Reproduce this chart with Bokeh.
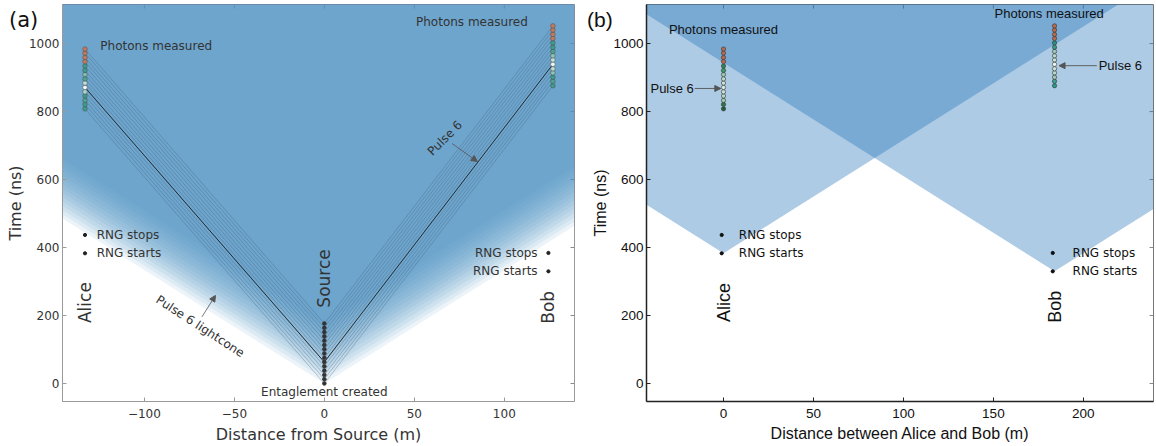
import numpy as np
from bokeh.plotting import figure
from bokeh.layouts import row
from bokeh.models import Label, Arrow, NormalHead, FixedTicker, Div
from bokeh.embed import file_html
from bokeh.resources import INLINE

# ---------------- data ----------------
pulse_number = [1, 2, 3, 4, 5, 6, 7, 8, 9, 10, 11, 12, 13, 14, 15]
pulse_emit_ns = [0.0, 12.6, 25.2, 37.8, 50.4, 63.0, 75.6, 88.2, 100.8, 113.4, 126.0, 138.6, 151.2, 163.8, 176.4]
alice_detect_ns = [808, 821, 833, 846, 858, 871, 884, 896, 909, 921, 934, 947, 959, 972, 984]
bob_detect_ns = [876, 889, 901, 914, 926, 939, 952, 964, 977, 989, 1002, 1015, 1027, 1040, 1052]
highlight_pulse = 6

source_pos_m = 0.0
alice_pos_a_m = -133.0
bob_pos_a_m = 127.0
alice_pos_b_m = 0.0
bob_pos_b_m = 184.0

alice_rng_ns = [383, 437]   # RNG starts, RNG stops
bob_rng_ns = [330, 384]
rng_labels = ["RNG starts", "RNG stops"]
ns_per_m = 3.336            # light travel time

alice_colors_a = ["#3a9e8c", "#3a9e8c", "#4aa592", "#3a9e8c", "#a9d6c8", "#f0f7f3", "#c3e2d7",
                  "#4aa592", "#7cc0ad", "#3a9e8c", "#3a9e8c", "#c47a5a", "#c47a5a", "#c47a5a", "#c47a5a"]
bob_colors_a = ["#3a9e8c", "#4aa592", "#3a9e8c", "#8cc6b4", "#b8dccf", "#f0f7f3", "#c3e2d7",
                "#8cc6b4", "#4aa592", "#3a9e8c", "#3a9e8c", "#c47a5a", "#c47a5a", "#c47a5a", "#c47a5a"]
alice_colors_b = ["#1e5e38", "#2a7a4a", "#9cc9b0", "#b8d8c8", "#c9e2d5", "#d8ebe2", "#c9e2d5",
                  "#b8d8c8", "#9cc9b0", "#3f9a6a", "#2a8a50", "#b86a4a", "#b86a4a", "#b86a4a", "#b86a4a"]
bob_colors_b = ["#2a9a8a", "#3aa090", "#9cc9b8", "#b8d8c8", "#c9e2d5", "#eef6f2", "#c9e2d5",
                "#b8d8c8", "#9cc9b8", "#3a9a88", "#2a9080", "#b86a4a", "#b86a4a", "#b86a4a", "#b86a4a"]

xticks_a = [-100, -50, 0, 50, 100]
xticks_b = [0, 50, 100, 150, 200]
yticks = [0, 200, 400, 600, 800, 1000]
xrange_a = (-145.5, 139.0)
xrange_b = (-42.8, 239.0)
yrange = (-53.0, 1115.0)
panel_letters = ["(a)", "(b)"]

FONT_A = "DejaVu Sans"
FONT_B = "Liberation Sans"
TXT_A = "#333333"
TXT_B = "#111111"

TICK_NS = 12.0   # length of mirrored inner ticks (about 4 px) in data units
TICK_M = 2.2


def style_axes(p, xticks, xr, font, color, tick_size, line_color, line_width):
    p.grid.visible = False
    p.xaxis.ticker = FixedTicker(ticks=xticks)
    p.yaxis.ticker = FixedTicker(ticks=yticks)
    p.xaxis.major_label_overrides = {t: (f"\u2212{abs(t)}" if t < 0 else str(t)) for t in xticks}
    for ax in (p.xaxis[0], p.yaxis[0]):
        ax.minor_tick_line_color = None
        ax.major_tick_in = 4
        ax.major_tick_out = 0
        ax.axis_line_color = line_color
        ax.axis_line_width = line_width
        ax.major_tick_line_color = line_color
        ax.major_label_text_font = font
        ax.major_label_text_font_size = tick_size
        ax.major_label_text_color = color
        ax.axis_label_text_font = font
        ax.axis_label_text_font_size = "16px"
        ax.axis_label_text_font_style = "normal"
        ax.axis_label_text_color = color
    p.xaxis.major_label_standoff = 7
    p.xaxis.axis_label_standoff = 4
    p.yaxis.major_label_standoff = 3
    p.yaxis.axis_label_standoff = 1
    # mirrored inward ticks on the top and right edges
    top, right = yrange[1], xr[1]
    p.segment(x0=xticks, y0=[top] * len(xticks), x1=xticks, y1=[top - TICK_NS] * len(xticks),
              line_color="#888888", line_width=1)
    p.segment(x0=[right] * len(yticks), y0=yticks, x1=[right - TICK_M] * len(yticks), y1=yticks,
              line_color="#888888", line_width=1)


def lab(p, x, y, text, font, size, color, align="left", baseline="middle", angle=0, **kw):
    p.add_layout(Label(x=x, y=y, text=text, text_font=font, text_font_size=size,
                       text_color=color, text_align=align, text_baseline=baseline,
                       angle=angle, angle_units="deg", **kw))


# ================= panel (a) =================
pa = figure(width=580, height=446, x_range=xrange_a, y_range=yrange,
            output_backend="svg", toolbar_location=None,
            min_border_left=62, min_border_right=6, min_border_top=4, min_border_bottom=45,
            outline_line_color="#9a9a9a", outline_line_width=1)
pa.xaxis.axis_label = "Distance from Source (m)"
pa.yaxis.axis_label = "Time (ns)"
style_axes(pa, xticks_a, xrange_a, FONT_A, TXT_A, "12px", "#9a9a9a", 1)

# light cones of every pulse (stacked translucent layers)
xL, xR = xrange_a
cone_top = yrange[1] + 400
cone_xs = [[xL, source_pos_m, xR, xR, xL] for t in pulse_emit_ns]
cone_ys = [[t + (source_pos_m - xL) * ns_per_m, t, t + (xR - source_pos_m) * ns_per_m, cone_top, cone_top]
           for t in pulse_emit_ns]
pa.patches(cone_xs, cone_ys, fill_color="#5094c6", fill_alpha=0.1, line_color=None)

# photon paths
hi = pulse_number.index(highlight_pulse)
for det, pos in ((alice_detect_ns, alice_pos_a_m), (bob_detect_ns, bob_pos_a_m)):
    xs = [[source_pos_m, pos] for _ in pulse_emit_ns]
    ys = [[t, d] for t, d in zip(pulse_emit_ns, det)]
    pa.multi_line(xs, ys, line_color="#3d5a74", line_alpha=0.45, line_width=0.7)
    pa.line([source_pos_m, pos], [pulse_emit_ns[hi], det[hi]], line_color="#222222", line_width=1.0, line_alpha=0.9)

pa.scatter([source_pos_m] * len(pulse_emit_ns), pulse_emit_ns, size=3.6, fill_color="#333333", line_color="#333333")
pa.scatter([alice_pos_a_m] * 15, alice_detect_ns, size=4.6, fill_color=alice_colors_a, line_color="#4a4a4a", line_width=0.5)
pa.scatter([bob_pos_a_m] * 15, bob_detect_ns, size=4.6, fill_color=bob_colors_a, line_color="#4a4a4a", line_width=0.5)
pa.scatter([alice_pos_a_m] * 2, alice_rng_ns, size=3.2, fill_color="#222222", line_color="#222222")
pa.scatter([bob_pos_a_m - 2.5] * 2, bob_rng_ns, size=3.2, fill_color="#222222", line_color="#222222")

for t, s in zip(alice_rng_ns, rng_labels):
    lab(pa, alice_pos_a_m + 6.5, t, s, FONT_A, "12px", TXT_A)
for t, s in zip(bob_rng_ns, rng_labels):
    lab(pa, bob_pos_a_m - 8.5, t, s, FONT_A, "12px", TXT_A, align="right")

lab(pa, alice_pos_a_m + 8.5, alice_detect_ns[-1] + 10, "Photons measured", FONT_A, "12px", TXT_A)
lab(pa, bob_pos_a_m - 45, bob_detect_ns[-1] + 12, "Photons measured", FONT_A, "12px", TXT_A, align="center")
lab(pa, alice_pos_a_m, 238, "Alice", FONT_A, "17px", TXT_A, align="center", angle=90)
lab(pa, source_pos_m, 309, "Source", FONT_A, "17px", TXT_A, align="center", angle=90)
lab(pa, bob_pos_a_m - 2.5, 224, "Bob", FONT_A, "17px", TXT_A, align="center", angle=90)
lab(pa, source_pos_m, -24, "Entaglement created", FONT_A, "12px", TXT_A, align="center")
lab(pa, -69, 168, "Pulse 6 lightcone", FONT_A, "12px", TXT_A, align="center", angle=-33)
lab(pa, 67, 722, "Pulse 6", FONT_A, "12px", TXT_A, align="center", angle=45)

pa.add_layout(Arrow(end=NormalHead(size=6, fill_color="#555555", line_color="#555555"),
                    x_start=-68, y_start=196, x_end=-60.5, y_end=259,
                    line_color="#555555", line_width=0.8))
pa.add_layout(Arrow(end=NormalHead(size=6, fill_color="#555555", line_color="#555555"),
                    x_start=71, y_start=706, x_end=85, y_end=653,
                    line_color="#555555", line_width=0.8))

# ================= panel (b) =================
pb = figure(width=576, height=446, x_range=xrange_b, y_range=yrange,
            output_backend="svg", toolbar_location=None,
            min_border_left=66, min_border_right=3, min_border_top=4, min_border_bottom=45,
            outline_line_color="#777777", outline_line_width=1)
pb.xaxis.axis_label = "Distance between Alice and Bob (m)"
pb.yaxis.axis_label = "Time (ns)"
style_axes(pb, xticks_b, xrange_b, FONT_B, TXT_B, "13.5px", "#222222", 1.5)

bL, bR = xrange_b
for pos, t0 in ((alice_pos_b_m, alice_rng_ns[0]), (bob_pos_b_m, bob_rng_ns[0])):
    xs = [bL, pos, bR, bR, bL]
    ys = [t0 + (pos - bL) * ns_per_m, t0, t0 + (bR - pos) * ns_per_m, cone_top, cone_top]
    pb.patch(xs, ys, fill_color="#1d6eb6", fill_alpha=0.36, line_color=None)

pb.scatter([alice_pos_b_m] * 15, alice_detect_ns, size=4.3, fill_color=alice_colors_b, line_color="#333333", line_width=0.6)
pb.scatter([bob_pos_b_m] * 15, bob_detect_ns, size=4.3, fill_color=bob_colors_b, line_color="#333333", line_width=0.6)
pb.scatter([alice_pos_b_m - 1] * 2, alice_rng_ns, size=3.2, fill_color="#111111", line_color="#111111")
pb.scatter([bob_pos_b_m - 1] * 2, bob_rng_ns, size=3.2, fill_color="#111111", line_color="#111111")

for t, s in zip(alice_rng_ns, rng_labels):
    lab(pb, alice_pos_b_m + 8.5, t, s, FONT_A, "12px", TXT_B)
for t, s in zip(bob_rng_ns, rng_labels):
    lab(pb, bob_pos_b_m + 10, t, s, FONT_A, "12px", TXT_B)

lab(pb, alice_pos_b_m, 1041, "Photons measured", FONT_B, "13px", TXT_B, align="center")
lab(pb, bob_pos_b_m - 3, 1088, "Photons measured", FONT_B, "13px", TXT_B, align="center")
lab(pb, alice_pos_b_m, 238, "Alice", FONT_B, "18px", TXT_B, align="center", angle=90)
lab(pb, bob_pos_b_m, 226, "Bob", FONT_B, "18px", TXT_B, align="center", angle=90)
lab(pb, -16.5, alice_detect_ns[hi] - 3, "Pulse 6", FONT_B, "13px", TXT_B, align="right")
lab(pb, 208.5, bob_detect_ns[hi] - 4, "Pulse 6", FONT_B, "13px", TXT_B, align="left")

pb.add_layout(Arrow(end=NormalHead(size=6, fill_color="#555555", line_color="#555555"),
                    x_start=-16, y_start=alice_detect_ns[hi] - 3, x_end=-1.5, y_end=alice_detect_ns[hi] - 3,
                    line_color="#555555", line_width=0.9))
pb.add_layout(Arrow(end=NormalHead(size=6, fill_color="#555555", line_color="#555555"),
                    x_start=207.5, y_start=bob_detect_ns[hi] - 4, x_end=186.5, y_end=bob_detect_ns[hi] - 4,
                    line_color="#555555", line_width=0.9))

# panel letters (outside the plot frames, so placed as absolutely positioned text)
da = Div(text=panel_letters[0], styles={"position": "absolute", "left": "4px", "top": "2px",
                                        "font-family": FONT_A, "font-size": "21px", "color": "#111111",
                                        "line-height": "26px", "z-index": "10"})
db = Div(text=panel_letters[1], styles={"position": "absolute", "left": "582px", "top": "2px",
                                        "font-family": FONT_B, "font-size": "21px", "color": "#111111",
                                        "line-height": "26px", "z-index": "10"})

layout = row(pa, pb, da, db)
open("out.html", "w").write(file_html(layout, INLINE))
